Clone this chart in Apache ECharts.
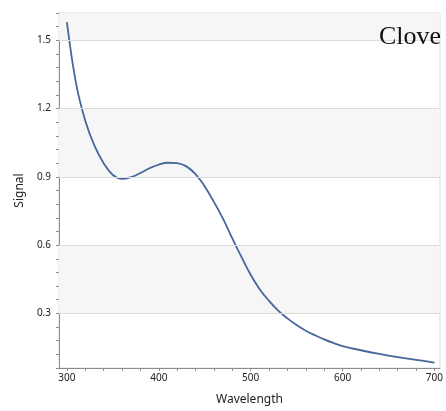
<!DOCTYPE html>
<html>
<head>
<meta charset="utf-8">
<script src="https://cdn.jsdelivr.net/npm/echarts@6/dist/echarts.min.js"></script>
<style>
  html, body { margin: 0; padding: 0; background: #fff; }
  #chart { width: 446px; height: 411px; }
</style>
</head>
<body>
<div id="chart"></div>
<script>
// wavelength (nm) and signal
var wavelength = [300, 310, 320, 330, 340, 350, 360, 370, 380, 390, 400, 410, 420, 430, 440, 450, 460, 470, 480, 490, 500, 510, 520, 530, 540, 550, 560, 570, 580, 590, 600, 620, 640, 660, 680, 700];
var signal = [1.58, 1.31, 1.147, 1.037, 0.960, 0.908, 0.891, 0.899, 0.917, 0.938, 0.954, 0.962, 0.960, 0.946, 0.912, 0.858, 0.790, 0.715, 0.630, 0.548, 0.470, 0.405, 0.355, 0.312, 0.278, 0.249, 0.224, 0.204, 0.186, 0.170, 0.156, 0.138, 0.122, 0.108, 0.096, 0.084];

var xLabels = [300, 400, 500, 600, 700];
var xTicks = [300, 320, 340, 360, 380, 400, 420, 440, 460, 480, 500, 520, 540, 560, 580, 600, 620, 640, 660, 680, 700];
var yLabels = [0.3, 0.6, 0.9, 1.2, 1.5];
var yBands = [[0.3, 0.6], [0.9, 1.2], [1.5, 1.62]];

var chart = echarts.init(document.getElementById('chart'));

var points = wavelength.map(function (w, i) { return [w, signal[i]]; });

chart.setOption({
  animation: false,
  grid: {
    left: 59, right: -1, top: 13, bottom: 42,
    show: true, borderColor: '#dedede', borderWidth: 1
  },
  xAxis: {
    type: 'value',
    min: 291.4, max: 706,
    name: 'Wavelength',
    nameLocation: 'middle',
    nameGap: 26,
    nameTextStyle: { fontFamily: 'Noto Sans', fontSize: 12, color: '#222' },
    axisLine: { lineStyle: { color: '#8c8c8c' } },
    axisTick: { customValues: xTicks, length: 3, lineStyle: { color: '#8c8c8c' } },
    axisLabel: { customValues: xLabels, margin: 5, fontFamily: 'Noto Sans', fontSize: 10, color: '#222' },
    splitLine: { show: false }
  },
  yAxis: {
    type: 'value',
    min: 0.06, max: 1.62, interval: 0.06,
    name: 'Signal',
    nameLocation: 'middle',
    nameGap: 32,
    nameTextStyle: { fontFamily: 'Noto Sans', fontSize: 12, color: '#222' },
    axisLine: { show: true, lineStyle: { color: '#8c8c8c' } },
    axisTick: { show: true, length: 3, lineStyle: { color: '#8c8c8c' } },
    axisLabel: {
      margin: 8, fontFamily: 'Noto Sans', fontSize: 10, color: '#222',
      formatter: function (v) {
        var k = v / 0.3;
        return Math.abs(k - Math.round(k)) < 1e-6 ? (Math.round(k) * 0.3).toFixed(1) : '';
      }
    },
    splitLine: { show: false }
  },
  graphic: [{
    type: 'text',
    left: 379, top: 24, z: 100,
    style: { text: 'Clove', font: '26px "Liberation Serif"', fill: '#111' }
  }],
  series: [{
    type: 'line',
    data: [],
    z: 1,
    silent: true,
    markArea: {
      silent: true,
      itemStyle: { color: '#f6f6f6' },
      data: yBands.map(function (b) { return [{ yAxis: b[0] }, { yAxis: b[1] }]; })
    },
    markLine: {
      silent: true,
      symbol: 'none',
      label: { show: false },
      lineStyle: { color: '#dcdcdc', type: 'solid', width: 1 },
      data: yLabels.map(function (v) { return { yAxis: v }; })
    }
  }, {
    type: 'line',
    data: points,
    z: 3,
    smooth: 0.4,
    showSymbol: false,
    lineStyle: { color: '#46679a', width: 1.8 }
  }]
});
</script>
</body>
</html>
